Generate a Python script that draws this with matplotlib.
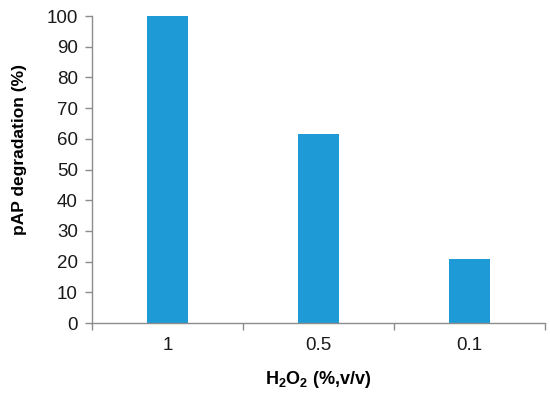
import matplotlib
matplotlib.use("Agg")
import matplotlib.pyplot as plt
import numpy as np

categories = ["1", "0.5", "0.1"]
values = [100, 61.5, 21]
yticks = [0, 10, 20, 30, 40, 50, 60, 70, 80, 90, 100]

plt.rcParams['font.family'] = ['Liberation Sans', 'DejaVu Sans']
plt.rcParams['mathtext.fontset'] = 'custom'
plt.rcParams['mathtext.rm'] = 'Liberation Sans'
plt.rcParams['mathtext.bf'] = 'Liberation Sans:bold'

fig = plt.figure(figsize=(5.5, 3.93), dpi=100)
ax = fig.add_axes([0.167, 0.178, 0.824, 0.781])

x = np.arange(len(categories))
ax.bar(x, values, width=0.27, color="#1e9bd7", zorder=2)

ax.set_xlim(-0.5, len(categories) - 0.5)
ax.set_ylim(0, 100)
ax.set_yticks(yticks)
ax.set_xticks(x)
ax.set_xticklabels(categories)
ax.set_xticks(np.arange(-0.5, len(categories), 1.0), minor=True)

gray = "#8c8c8c"
for s in ["top", "right"]:
    ax.spines[s].set_visible(False)
for s in ["left", "bottom"]:
    ax.spines[s].set_color(gray)
    ax.spines[s].set_linewidth(1.0)

ax.tick_params(axis="y", colors=gray, labelcolor="#1a1a1a", labelsize=13.5, length=5, width=1, direction="out", pad=5)
ax.tick_params(axis="x", which="major", length=0, labelsize=13.5, labelcolor="#1a1a1a", pad=10)
ax.tick_params(axis="x", which="minor", length=5, width=1, colors=gray, direction="out")

ax.set_ylabel("pAP degradation (%)", fontsize=12.5, fontweight="bold")
ax.set_xlabel(r"H$_\mathbf{2}$O$_\mathbf{2}$ (%,v/v)", fontsize=13, fontweight="bold")
ax.yaxis.set_label_coords(-0.143, 0.567)
ax.xaxis.set_label_coords(0.5, -0.15)

fig.savefig("out.png", dpi=100)
